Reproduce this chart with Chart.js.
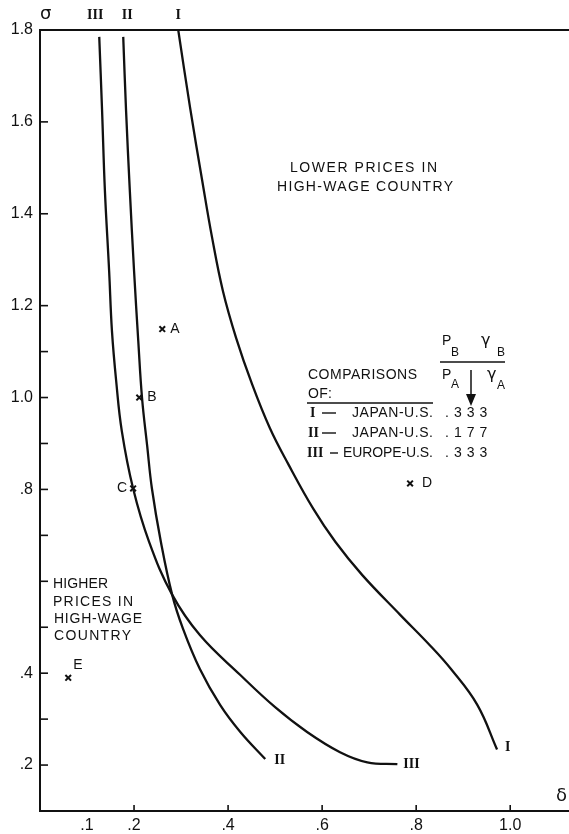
<!DOCTYPE html>
<html><head><meta charset="utf-8">
<style>html,body{margin:0;padding:0;background:#fff}#wrap{width:569px;height:834px}</style>
<script src="https://cdn.jsdelivr.net/npm/chart.js@4/dist/chart.umd.min.js"></script>
</head><body><div id="wrap"><canvas id="c" width="569" height="834"></canvas></div>
<script>
// ---- DATA ----
const curveI_delta = [0.294,0.319,0.345,0.366,0.389,0.417,0.451,0.489,0.528,0.581,0.628,0.685,0.766,0.828,0.874,0.930,0.972];
const curveI_sigma = [1.800,1.632,1.472,1.348,1.232,1.130,1.029,0.933,0.855,0.758,0.686,0.614,0.527,0.462,0.409,0.331,0.234];
const curveII_delta = [0.177,0.183,0.191,0.200,0.209,0.217,0.228,0.238,0.257,0.281,0.304,0.340,0.383,0.426,0.479];
const curveII_sigma = [1.785,1.625,1.451,1.276,1.123,0.999,0.894,0.802,0.686,0.571,0.497,0.409,0.331,0.272,0.213];
const curveIII_delta = [0.126,0.132,0.138,0.147,0.153,0.162,0.174,0.198,0.232,0.281,0.340,0.426,0.500,0.568,0.638,0.696,0.760];
const curveIII_sigma = [1.785,1.625,1.451,1.276,1.145,1.036,0.927,0.802,0.686,0.571,0.483,0.396,0.326,0.272,0.228,0.206,0.202];
const pointNames = ['A','B','C','D','E'];
const pointDelta = [0.260,0.211,0.198,0.787,0.060];
const pointSigma = [1.149,1.000,0.802,0.813,0.390];
const xTickValues = [0.1,0.2,0.4,0.6,0.8,1.0];
const xTickLabels = ['.1','.2','.4','.6','.8','1.0'];
const yTickValues = [0.2,0.3,0.4,0.5,0.6,0.7,0.8,0.9,1.0,1.1,1.2,1.4,1.6,1.8];
const yTickLabels = ['.2','','.4','','','','.8','','1.0','','1.2','1.4','1.6','1.8'];
const comparisonNumerals = ['I','II','III'];
const comparisonNames = ['JAPAN-U.S.','JAPAN-U.S.','EUROPE-U.S.'];
const comparisonRatios = ['.333','.177','.333'];

const zip = (xs, ys) => xs.map((x, i) => ({x: x, y: ys[i]}));
const INK = '#111';
const SANS = '"Liberation Sans", Arial, sans-serif';
const SERIF = '"Liberation Serif", "DejaVu Serif", serif';

function fitText(ctx, text, x, y, w) {
  ctx.letterSpacing = '0px';
  const m = ctx.measureText(text).width;
  let ls = w ? (w - m) / Math.max(1, text.length - 1) : 0;
  ls = Math.max(-1.5, Math.min(5, ls));
  ctx.letterSpacing = ls + 'px';
  ctx.fillText(text, x, y);
  ctx.letterSpacing = '0px';
}

const decor = {
  id: 'decor',
  afterDraw(chart) {
    const ctx = chart.ctx, a = chart.chartArea;
    const xs = chart.scales.x, ys = chart.scales.y;
    ctx.save();
    ctx.strokeStyle = INK; ctx.fillStyle = INK;
    // top frame line
    ctx.lineWidth = 2;
    ctx.beginPath(); ctx.moveTo(a.left, a.top); ctx.lineTo(a.right, a.top); ctx.stroke();
    // inward tick marks
    ctx.lineWidth = 1.6;
    xTickValues.forEach(v => {
      if (v < 0.15) return;
      const px = xs.getPixelForValue(v);
      ctx.beginPath(); ctx.moveTo(px, a.bottom); ctx.lineTo(px, a.bottom - 6); ctx.stroke();
    });
    yTickValues.forEach(v => {
      const py = ys.getPixelForValue(v);
      ctx.beginPath(); ctx.moveTo(a.left, py); ctx.lineTo(a.left + 8, py); ctx.stroke();
    });
    ctx.textBaseline = 'middle';
    // axis symbols
    ctx.font = '18px "DejaVu Sans", sans-serif';
    ctx.textAlign = 'left';
    ctx.fillText('σ', 40, 14);
    ctx.fillText('δ', 556, 796);
    // roman numerals at top and ends of curves
    ctx.font = 'bold 14px ' + SERIF;
    ctx.textAlign = 'center';
    const topY = a.top - 15;
    ctx.fillText('III', xs.getPixelForValue(curveIII_delta[0]) - 4, topY);
    ctx.fillText('II', xs.getPixelForValue(curveII_delta[0]) + 4, topY);
    ctx.fillText('I', xs.getPixelForValue(curveI_delta[0]), topY);
    ctx.textAlign = 'left';
    const endLabel = (d, s, t, dx, dy) => ctx.fillText(t, xs.getPixelForValue(d[d.length-1]) + dx, ys.getPixelForValue(s[s.length-1]) + dy);
    endLabel(curveI_delta, curveI_sigma, 'I', 8, -2);
    endLabel(curveII_delta, curveII_sigma, 'II', 9, 1);
    endLabel(curveIII_delta, curveIII_sigma, 'III', 6, 0);
    // point letters
    ctx.font = '14px ' + SANS;
    pointNames.forEach((n, i) => {
      const px = xs.getPixelForValue(pointDelta[i]), py = ys.getPixelForValue(pointSigma[i]);
      if (n === 'C') { ctx.textAlign = 'right'; ctx.fillText(n, px - 6, py); }
      else if (n === 'E') { ctx.textAlign = 'left'; ctx.fillText(n, px + 5, py - 13); }
      else { ctx.textAlign = 'left'; ctx.fillText(n, px + (n === 'D' ? 12 : 8), py); }
    });
    // region notes
    ctx.textAlign = 'left';
    ctx.font = '14px ' + SANS;
    fitText(ctx, 'LOWER PRICES IN', 290, 168, 147);
    fitText(ctx, 'HIGH-WAGE COUNTRY', 277, 187, 176);
    fitText(ctx, 'HIGHER', 53, 584, 55);
    fitText(ctx, 'PRICES IN', 53, 602, 80);
    fitText(ctx, 'HIGH-WAGE', 54, 619, 88);
    fitText(ctx, 'COUNTRY', 54, 636, 77);
    // comparison key
    fitText(ctx, 'COMPARISONS', 308, 375, 109);
    fitText(ctx, 'OF:', 308, 394, 24);
    ctx.lineWidth = 1.5;
    ctx.beginPath(); ctx.moveTo(307, 403); ctx.lineTo(433, 403); ctx.stroke();
    // fraction header
    ctx.font = '14px ' + SANS;
    ctx.fillText('P', 442, 341); ctx.fillText('P', 442, 375);
    ctx.font = '16px "DejaVu Sans", sans-serif';
    ctx.fillText('γ', 481, 341); ctx.fillText('γ', 487, 375);
    ctx.font = '12px ' + SANS;
    ctx.fillText('B', 451, 353); ctx.fillText('B', 497, 353);
    ctx.fillText('A', 451, 385); ctx.fillText('A', 497, 386);
    ctx.lineWidth = 1.5;
    ctx.beginPath(); ctx.moveTo(440, 362); ctx.lineTo(505, 362); ctx.stroke();
    // arrow
    ctx.beginPath(); ctx.moveTo(471, 370); ctx.lineTo(471, 396); ctx.stroke();
    ctx.beginPath(); ctx.moveTo(466, 394); ctx.lineTo(476, 394); ctx.lineTo(471, 406); ctx.closePath(); ctx.fill();
    // rows
    const rowY = [413, 433, 453];
    comparisonNumerals.forEach((r, i) => {
      ctx.font = 'bold 14px ' + SERIF;
      ctx.textAlign = 'left';
      ctx.fillText(r, i === 0 ? 310 : (i === 1 ? 308 : 307), rowY[i]);
      ctx.lineWidth = 1.4;
      const dashStart = i === 2 ? 330 : 322;
      const dashEnd = i === 2 ? 338 : 336;
      ctx.beginPath(); ctx.moveTo(dashStart, rowY[i]); ctx.lineTo(dashEnd, rowY[i]); ctx.stroke();
      ctx.font = '14px ' + SANS;
      const nameX = i === 2 ? 343 : 352;
      fitText(ctx, comparisonNames[i], nameX, rowY[i], 433 - nameX);
      fitText(ctx, comparisonRatios[i], 445, rowY[i], 47);
    });
    ctx.restore();
  }
};

const lineStyle = {showLine: true, borderColor: INK, borderWidth: 2.3, pointRadius: 0, fill: false, tension: 0.4};

new Chart(document.getElementById('c'), {
  type: 'scatter',
  data: {datasets: [
    Object.assign({label: 'I', data: zip(curveI_delta, curveI_sigma)}, lineStyle),
    Object.assign({label: 'II', data: zip(curveII_delta, curveII_sigma)}, lineStyle),
    Object.assign({label: 'III', data: zip(curveIII_delta, curveIII_sigma)}, lineStyle),
    {label: 'points', data: zip(pointDelta, pointSigma), showLine: false, pointStyle: 'crossRot', pointRadius: 4, borderColor: INK, borderWidth: 2}
  ]},
  options: {
    responsive: false, animation: false, devicePixelRatio: 1,
    layout: {autoPadding: false, padding: {top: 30, right: 0, left: 0, bottom: 0}},
    plugins: {legend: {display: false}, tooltip: {enabled: false}},
    scales: {
      x: {
        type: 'linear', min: 0, max: 1.125,
        afterBuildTicks: s => { s.ticks = xTickValues.map(v => ({value: v})); },
        afterFit: s => { s.height = 23; s.paddingRight = 0; s.paddingLeft = 0; },
        grid: {display: true, drawOnChartArea: false, drawTicks: false},
        border: {display: true, color: INK, width: 2},
        ticks: {
          callback: v => { const i = xTickValues.findIndex(t => Math.abs(t - v) < 1e-6); return i >= 0 ? xTickLabels[i] : ''; },
          font: {family: SANS, size: 16}, color: INK, padding: 5, autoSkip: false, maxRotation: 0
        }
      },
      y: {
        type: 'linear', min: 0.1, max: 1.8,
        afterBuildTicks: s => { s.ticks = yTickValues.map(v => ({value: v})); },
        afterFit: s => { s.width = 40; s.paddingTop = 0; s.paddingBottom = 0; },
        grid: {display: true, drawOnChartArea: false, drawTicks: false},
        border: {display: true, color: INK, width: 2},
        ticks: {
          callback: v => { const i = yTickValues.findIndex(t => Math.abs(t - v) < 1e-6); return i >= 0 ? yTickLabels[i] : ''; },
          font: {family: SANS, size: 16}, color: INK, padding: 7, autoSkip: false
        }
      }
    }
  },
  plugins: [decor]
});
</script>
</body></html>
